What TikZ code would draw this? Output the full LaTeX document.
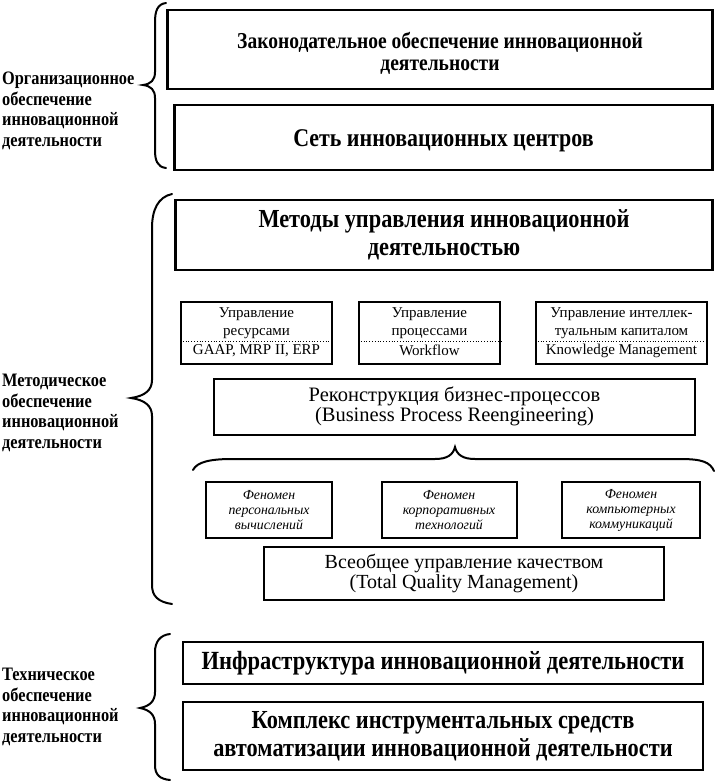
\documentclass[tikz,border=0pt]{standalone}
\usepackage{fontspec}
\setmainfont[FakeStretch=0.86]{Liberation Serif}
\newfontfamily\plainrm{Liberation Serif}
\usetikzlibrary{calc}
\newcommand{\fsz}[2]{\fontsize{#1}{#2}\selectfont}
\begin{document}
\begin{tikzpicture}[x=1pt,y=-1pt,
  bigbox/.style={draw, line width=2.4pt, inner sep=0pt, align=center},
  txt/.style={inner sep=0pt, align=center},
  smallbox/.style={draw, line width=2pt, inner sep=0pt, minimum height=62pt},
  stxt/.style={inner sep=0pt, align=center, font=\plainrm\fsz{15}{18}},
  phbox/.style={draw, line width=2pt, inner sep=0pt, align=center, minimum height=56pt, font=\plainrm\fsz{13.8}{15}\itshape},
  lbl/.style={inner sep=0pt, align=left, anchor=west, font=\fsz{19}{20.5}\bfseries},
  brc/.style={line width=2pt, line cap=round},
  dotl/.style={line width=0.8pt, dotted}]
\useasboundingbox (0,0) rectangle (720,783);
\fill[white] (0,0) rectangle (720,783);

% top group
\node[bigbox, minimum width=545pt, minimum height=79pt] (zak) at (440,49.5) {};
\node[txt, font=\fsz{22.7}{22.5}\bfseries] (zakt) at ($(zak.center)+(0,4)$)
  {Законодательное обеспечение инновационной\\деятельности};
\node[bigbox, minimum width=538pt, minimum height=65pt] (set) at (443.5,137.5) {};
\node[txt, font=\fsz{25.5}{30}\bfseries] (sett) at ($(set.center)+(0,3)$) {Сеть инновационных центров};
\node[lbl] (org) at (2,111) {Организационное\\обеспечение\\инновационной\\деятельности};
\draw[brc] (166,3) .. controls (157,4) and (155,12) .. (155,22) -- (155,72)
  .. controls (155,80) and (151,84) .. (143,85) .. controls (151,86) and (155,90) .. (155,98)
  -- (155,150) .. controls (155,160) and (157,167) .. (166,168);

% methods group
\node[bigbox, minimum width=537pt, minimum height=70pt, font=\fsz{26}{28}\bfseries] (met) at (444,235)
  {Методы управления инновационной\\деятельностью};
\node[smallbox, minimum width=151pt] (s1) at (256.5,333) {};
\node[smallbox, minimum width=141pt] (s2) at (429.5,333) {};
\node[smallbox, minimum width=171pt] (s3) at (621.5,333) {};
\foreach \s/\a/\b in {s1/{Управление\\ресурсами}/{GAAP, MRP II, ERP},
                      s2/{Управление\\процессами}/{Workflow},
                      s3/{Управление интеллек-\\туальным капиталом}/{Knowledge Management}}{
  \coordinate (\s d) at ($(\s.north)!0.63!(\s.south)$);
  \draw[dotl] (\s.west |- \s d) -- (\s.east |- \s d);
  \node[stxt, anchor=south, yshift=2pt] (\s a) at (\s d) {\a};
  \node[stxt, anchor=north, yshift=-3pt] (\s b) at (\s d) {\b};
}
\node[bigbox, line width=2pt, minimum width=481pt, minimum height=56pt, font=\plainrm\fsz{20.5}{20.5}] (bpr) at (454.5,406.5)
  {Реконструкция бизнес-процессов\\(Business Process Reengineering)};
\draw[brc] (193,470) .. controls (197,462) and (210,459) .. (232,459) -- (435,459)
  .. controls (447,459) and (453,455) .. (455,447) .. controls (457,455) and (463,459) .. (475,459)
  -- (680,459) .. controls (702,459) and (710,462) .. (714,471);
\node[phbox, minimum width=126pt] (p1) at (269,510) {Феномен\\персональных\\вычислений};
\node[phbox, minimum width=135pt] (p2) at (449,510) {Феномен\\корпоративных\\технологий};
\node[phbox, minimum width=138pt] (p3) at (631,510) {Феномен\\компьютерных\\коммуникаций};
\node[bigbox, line width=2pt, minimum width=400pt, minimum height=53pt, font=\plainrm\fsz{20}{20}] (tqm) at (464,573)
  {Всеобщее управление качеством\\(Total Quality Management)};
\node[lbl] (mlab) at (2,413) {Методическое\\обеспечение\\инновационной\\деятельности};
\draw[brc] (172,194) .. controls (158,197) and (152,210) .. (152,228) -- (152,380)
  .. controls (152,390) and (145,396) .. (131,398) .. controls (145,400) and (152,406) .. (152,416)
  -- (152,585) .. controls (152,596) and (158,602) .. (172,604);

% technical group
\node[bigbox, minimum width=520pt, minimum height=42pt, font=\fsz{26.2}{28}\bfseries] (inf) at (443,663)
  {Инфраструктура инновационной деятельности};
\node[bigbox, minimum width=520pt, minimum height=68pt, font=\fsz{26}{28}\bfseries] (kom) at (443,736)
  {Комплекс инструментальных средств\\автоматизации инновационной деятельности};
\node[lbl] (tlab) at (2,707) {Техническое\\обеспечение\\инновационной\\деятельности};
\draw[brc] (170,634) .. controls (160,635) and (155,642) .. (155,652) -- (155,692)
  .. controls (155,701) and (150,706) .. (140,708) .. controls (150,710) and (155,715) .. (155,724)
  -- (155,765) .. controls (155,775) and (160,779) .. (170,780);
\end{tikzpicture}
\end{document}
